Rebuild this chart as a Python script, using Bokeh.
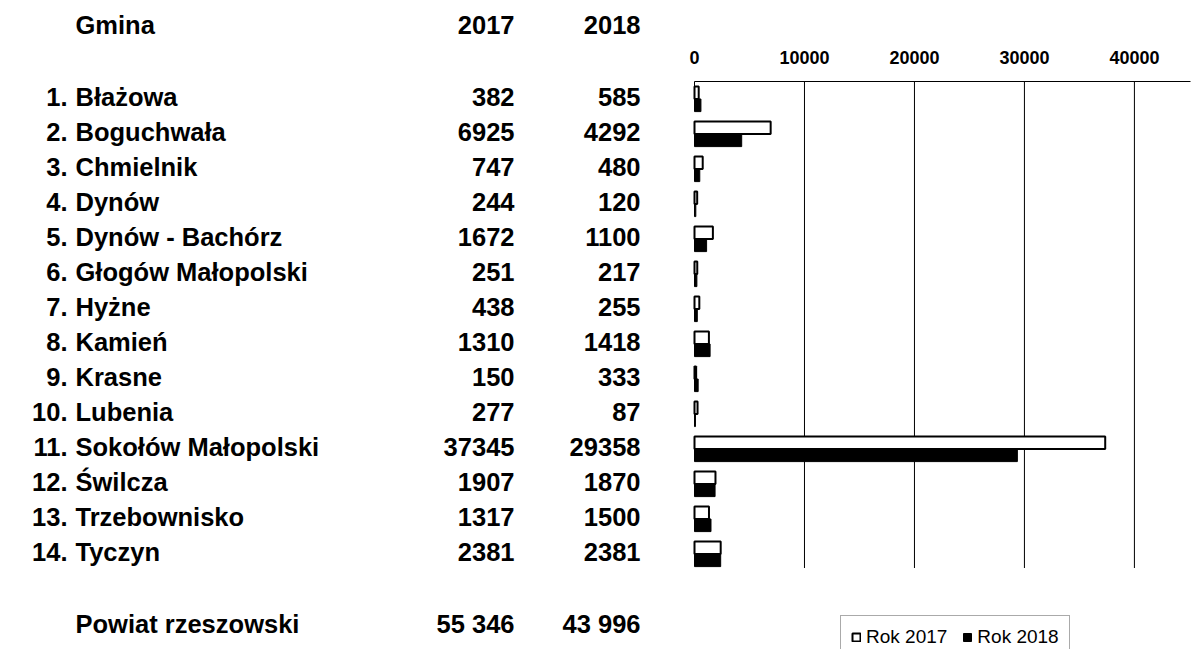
from bokeh.plotting import figure
from bokeh.models import Range1d, Legend, LegendItem, ColumnDataSource
from bokeh.core.properties import value
from bokeh.transform import dodge
from bokeh.embed import file_html
from bokeh.resources import INLINE

# ---------------- data ----------------
header_name = "Gmina"
years = ["2017", "2018"]
gminy = ["Błażowa", "Boguchwała", "Chmielnik", "Dynów", "Dynów - Bachórz",
         "Głogów Małopolski", "Hyżne", "Kamień", "Krasne", "Lubenia",
         "Sokołów Małopolski", "Świlcza", "Trzebownisko", "Tyczyn"]
rok_2017 = [382, 6925, 747, 244, 1672, 251, 438, 1310, 150, 277, 37345, 1907, 1317, 2381]
rok_2018 = [585, 4292, 480, 120, 1100, 217, 255, 1418, 333, 87, 29358, 1870, 1500, 2381]
total_label = "Powiat rzeszowski"
totals = ["55 346", "43 996"]
axis_ticks = [0, 10000, 20000, 30000, 40000]
legend_labels = ["Rok 2017", "Rok 2018"]

# ---------------- layout constants ----------------
W, H = 1198, 649
ROW_PX = 35.0            # pixels per table row
ROW1_PX = 98.5           # page y of row 1 centre
BAR_PX_LEFT, BAR_PX_RIGHT = 694, 1190
BAR_MAX = 45100
upp = BAR_MAX / (BAR_PX_RIGHT - BAR_PX_LEFT)

y_top = 1 + (0 - ROW1_PX) / ROW_PX
y_bot = 1 + (H - ROW1_PX) / ROW_PX

FONT = value("Liberation Sans")
TXT = dict(text_font=FONT, text_font_style="bold", text_font_size="25.5px",
           text_color="black", text_baseline="middle", y_offset=-2)
COL_NUM, COL_NAME, COL_Y1, COL_Y2 = 67, 75, 514, 640
HEADER_ROW, TOTAL_ROW = -1.05, 16.05
AXIS_ROW, GRID_END_ROW, TICKLABEL_ROW = 0.5, 14.4, -0.2

rows = list(range(1, len(gminy) + 1))

p = figure(width=W, height=H, x_range=Range1d(0, W), y_range=Range1d(y_bot, y_top),
           x_axis_type=None, y_axis_type=None, toolbar_location=None,
           output_backend="svg", min_border=0, outline_line_color=None)
p.grid.visible = False
p.extra_x_ranges = {"bars": Range1d(-BAR_PX_LEFT * upp, (W - BAR_PX_LEFT) * upp)}

# ---------------- table ----------------
tsrc = ColumnDataSource(dict(
    y=rows,
    num=[f"{i}." for i in rows],
    name=gminy,
    v17=[str(v) for v in rok_2017],
    v18=[str(v) for v in rok_2018],
))
p.text(x=COL_NUM, y="y", text="num", source=tsrc, text_align="right", **TXT)
p.text(x=COL_NAME, y="y", text="name", source=tsrc, text_align="left", **TXT)
p.text(x=COL_Y1, y="y", text="v17", source=tsrc, text_align="right", **TXT)
p.text(x=COL_Y2, y="y", text="v18", source=tsrc, text_align="right", **TXT)

hsrc = ColumnDataSource(dict(x=[COL_NAME, COL_Y1, COL_Y2], y=[HEADER_ROW] * 3,
                             text=[header_name] + years,
                             align=["left", "right", "right"]))
p.text(x="x", y="y", text="text", source=hsrc, text_align="align", **TXT)
fsrc = ColumnDataSource(dict(x=[COL_NAME, COL_Y1, COL_Y2], y=[TOTAL_ROW] * 3,
                             text=[total_label] + totals,
                             align=["left", "right", "right"]))
p.text(x="x", y="y", text="text", source=fsrc, text_align="align", **TXT)

# ---------------- axis (top) and grid ----------------
p.segment(x0=[10000, 20000, 30000, 40000], x1=[10000, 20000, 30000, 40000],
          y0=AXIS_ROW, y1=GRID_END_ROW, x_range_name="bars",
          line_color="black", line_width=1)
p.segment(x0=0, x1=0, y0=AXIS_ROW, y1=AXIS_ROW + 5 / ROW_PX, x_range_name="bars",
          line_color="black", line_width=1)
p.segment(x0=0, x1=BAR_MAX, y0=AXIS_ROW, y1=AXIS_ROW, x_range_name="bars",
          line_color="black", line_width=1)
p.text(x=axis_ticks, y=TICKLABEL_ROW, text=[str(t) for t in axis_ticks],
       x_range_name="bars", text_font=FONT, text_font_style="bold",
       text_font_size="18px", text_color="black", text_align="center",
       text_baseline="middle")

# ---------------- bars ----------------
bsrc = ColumnDataSource(dict(y=rows, v17=rok_2017, v18=rok_2018))
r17 = p.hbar(y=dodge("y", -0.18), left=0, right="v17", height=0.36, source=bsrc,
             x_range_name="bars", fill_color="white", line_color="black", line_width=2)
r18 = p.hbar(y=dodge("y", 0.18), left=0, right="v18", height=0.36, source=bsrc,
             x_range_name="bars", fill_color="black", line_color="black", line_width=1)

legend = Legend(items=[LegendItem(label=legend_labels[0], renderers=[r17]),
                       LegendItem(label=legend_labels[1], renderers=[r18])],
                orientation="horizontal", location=(840, -10),
                label_text_font="Liberation Sans", label_text_font_size="19px",
                label_text_color="black", glyph_width=10, glyph_height=10,
                label_standoff=5, spacing=15, padding=10, margin=0,
                label_height=18, border_line_color="#555555", border_line_width=1,
                background_fill_color="white", background_fill_alpha=1)
p.add_layout(legend)

open("out.html", "w").write(file_html(p, INLINE))
